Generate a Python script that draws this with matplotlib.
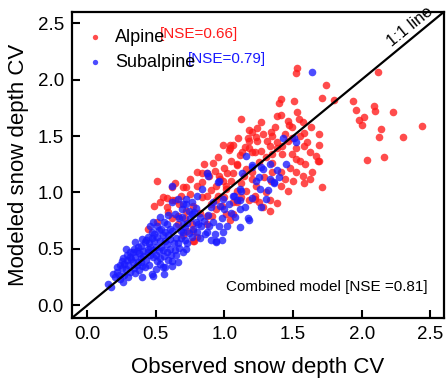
import matplotlib
matplotlib.use("Agg")
import matplotlib.pyplot as plt

plt.rcParams["font.family"] = ["Liberation Sans", "DejaVu Sans"]

# Alpine sites (observed CV, modeled CV)
alpine_obs = [2.12, 1.74, 1.71, 1.80, 1.94, 2.09, 1.96, 2.10, 2.23, 2.02, 1.98, 2.00, 2.44, 2.14,
              2.13, 2.30, 2.04, 2.16, 1.69, 1.69, 1.69, 1.53, 1.52, 1.41, 1.40, 1.51, 1.12, 1.27,
              1.38, 1.41, 1.53, 1.54, 1.57, 1.24, 1.18, 1.34, 1.63, 1.46, 1.47, 1.35, 1.17, 1.23,
              1.24, 1.46, 1.06, 1.33, 1.42, 1.52, 1.58, 1.18, 1.22, 1.35, 1.67, 0.99, 1.04, 1.03,
              1.18, 0.95, 1.11, 1.38, 1.52, 1.59, 1.52, 1.57, 1.64, 1.71, 1.58, 1.46, 1.38, 1.41,
              1.33, 0.87, 1.13, 1.42, 1.49, 1.68, 1.35, 1.41, 1.34, 1.29, 1.20, 1.22, 1.16, 1.18,
              1.28, 1.33, 1.09, 1.20, 1.20, 0.93, 0.84, 0.72, 0.62, 1.01, 1.06, 1.14, 1.23, 1.22,
              1.09, 0.94, 0.87, 0.51, 0.49, 0.58, 0.62, 0.64, 1.04, 1.09, 1.02, 0.96, 0.89, 0.84,
              0.80, 0.70, 0.75, 0.84, 0.94, 1.01, 1.09, 1.06, 0.94, 1.01, 0.87, 0.59, 0.66, 0.71,
              0.55, 0.67, 0.77, 0.95, 0.51, 0.62, 0.73, 0.78, 0.76, 1.06, 1.04, 0.91, 0.87, 0.77,
              0.80, 0.77, 0.64, 0.44,
              0.90, 0.97, 1.05, 1.12, 1.16, 1.25, 1.30, 1.27, 1.31, 1.38, 1.44, 1.49, 1.55, 1.60,
              1.62, 1.55, 1.48, 1.44, 1.50, 1.62, 1.05, 1.00, 0.92, 0.85, 0.80, 0.75, 0.68, 0.72,
              0.82, 0.90, 0.98, 1.12, 1.25, 1.30, 1.15, 1.10, 1.28, 1.37, 1.49, 1.58, 0.58, 0.53,
              0.66, 0.70, 1.00, 1.20, 1.35, 0.99]
alpine_mod = [2.07, 1.95, 1.84, 1.82, 1.81, 1.77, 1.73, 1.72, 1.71, 1.67, 1.64, 1.60, 1.59, 1.56,
              1.49, 1.49, 1.29, 1.31, 1.52, 1.42, 1.28, 2.10, 2.06, 1.83, 1.79, 1.81, 1.65, 1.62,
              1.68, 1.69, 1.71, 1.65, 1.62, 1.57, 1.55, 1.54, 1.58, 1.63, 1.60, 1.50, 1.48, 1.49,
              1.46, 1.46, 1.42, 1.41, 1.41, 1.39, 1.41, 1.39, 1.36, 1.34, 1.32, 1.42, 1.42, 1.38,
              1.46, 1.31, 1.33, 1.39, 1.30, 1.25, 1.18, 1.15, 1.18, 1.05, 1.08, 1.01, 0.91, 1.06,
              0.93, 1.17, 1.36, 1.34, 1.34, 1.28, 1.18, 1.18, 1.10, 1.14, 1.12, 0.97, 1.01, 0.93,
              0.87, 0.84, 1.25, 1.54, 1.36, 1.19, 1.09, 1.05, 0.93, 1.03, 1.17, 1.15, 1.06, 0.94,
              0.92, 0.93, 0.97, 1.10, 0.88, 0.87, 1.05, 1.08, 1.39, 1.24, 1.17, 1.15, 1.15, 1.17,
              1.06, 1.05, 0.99, 0.96, 1.06, 1.06, 1.01, 0.92, 0.85, 0.81, 0.79, 0.83, 0.79, 0.77,
              0.96, 0.90, 0.88, 0.97, 0.74, 0.77, 0.66, 0.57, 0.72, 0.81, 0.76, 0.79, 0.72, 0.66,
              0.61, 0.57, 0.93, 0.68,
              1.02, 1.12, 1.10, 1.08, 1.21, 1.27, 1.31, 1.37, 1.46, 1.45, 1.52, 1.48, 1.50, 1.45,
              1.36, 1.28, 1.22, 1.12, 1.10, 1.12, 1.28, 1.22, 1.26, 1.25, 1.18, 1.12, 0.97, 0.84,
              0.82, 0.90, 0.88, 0.96, 0.92, 1.00, 1.40, 1.48, 1.52, 1.58, 1.58, 1.53, 0.95, 0.92,
              0.72, 0.62, 0.96, 1.18, 1.26, 1.10]

# Subalpine sites
sub_obs = [0.17, 0.15, 0.20, 0.24, 0.26, 0.22, 0.22, 0.28, 0.31, 0.30, 0.33, 0.25, 0.29, 0.28,
           0.33, 0.35, 0.37, 0.40, 0.42, 0.37, 0.35, 0.40, 0.42, 0.44, 0.46, 0.48, 0.51, 0.48,
           0.57, 0.62, 0.66, 0.65, 0.70, 0.72, 0.44, 0.47, 0.51, 0.53, 0.54, 0.58, 0.60, 0.57,
           0.54, 0.51, 0.46, 0.48, 0.62, 0.65, 0.67, 0.64, 0.69, 0.72, 0.76, 0.78, 0.75, 0.71,
           0.76, 0.80, 0.83, 0.62, 0.66, 0.87, 0.93, 0.94, 0.99, 1.11, 1.18, 0.58, 0.47, 0.55,
           0.62, 0.62, 0.87, 0.95, 0.80, 0.72, 0.84, 0.99, 1.06, 1.09, 1.11, 1.00, 0.96, 0.89,
           0.86, 0.94, 0.70, 0.60, 0.76, 0.82, 0.70, 1.17, 1.64, 1.16, 1.33, 1.27, 1.23, 1.33,
           1.36, 1.40, 1.13, 1.12, 1.11, 1.30, 1.27, 1.43, 1.51, 1.52, 1.36, 1.28, 1.20, 1.25,
           1.07, 0.96, 1.11, 1.20, 0.88, 0.38, 0.41, 0.45, 0.49, 0.52, 0.56, 0.60, 0.63, 0.55,
           0.50, 0.43, 0.39, 0.47, 0.58, 0.68, 0.73, 0.66, 0.36, 0.32, 0.27, 0.53, 0.59, 0.69,
           0.74, 0.79,
           0.19, 0.23, 0.27, 0.30, 0.25, 0.29, 0.31, 0.34, 0.38, 0.36, 0.39, 0.41, 0.44, 0.46,
           0.48, 0.50, 0.53, 0.55, 0.57, 0.59, 0.61, 0.64, 0.67, 0.68, 0.71, 0.73, 0.77, 0.81,
           0.85, 0.88, 0.90, 0.92, 0.97, 1.03, 1.05, 1.08, 0.98, 0.92, 0.79, 0.74, 0.70, 0.56,
           0.52, 0.49, 0.43, 0.39, 0.34, 0.31, 0.26, 0.24, 0.45, 0.50, 0.53, 0.59, 0.56, 0.65,
           0.82, 0.90, 0.98, 1.02, 1.15, 1.20, 1.26, 1.32, 1.38, 1.45, 0.40, 0.35]
sub_mod = [0.16, 0.19, 0.25, 0.23, 0.21, 0.30, 0.34, 0.32, 0.30, 0.36, 0.38, 0.39, 0.45, 0.50,
           0.47, 0.43, 0.38, 0.35, 0.34, 0.52, 0.56, 0.59, 0.56, 0.50, 0.45, 0.43, 0.39, 0.26,
           0.34, 0.39, 0.38, 0.45, 0.47, 0.50, 0.61, 0.65, 0.61, 0.57, 0.52, 0.54, 0.59, 0.65,
           0.68, 0.70, 0.70, 0.74, 0.66, 0.70, 0.77, 0.81, 0.85, 0.90, 0.92, 0.83, 0.77, 0.69,
           0.61, 0.65, 0.70, 0.92, 0.94, 0.65, 0.63, 0.56, 0.65, 0.69, 0.76, 0.47, 0.28, 0.34,
           0.35, 1.06, 1.17, 1.09, 0.97, 0.94, 1.03, 0.94, 0.97, 0.93, 0.85, 0.85, 0.70, 0.70,
           0.63, 0.57, 0.65, 0.68, 0.81, 0.78, 0.90, 0.77, 2.07, 1.32, 1.25, 1.23, 1.10, 1.12,
           1.09, 1.14, 1.17, 1.01, 0.93, 0.94, 0.87, 1.48, 1.48, 1.45, 1.08, 1.21, 1.23, 1.14,
           0.97, 1.10, 1.03, 1.24, 1.15, 0.46, 0.48, 0.55, 0.57, 0.48, 0.44, 0.50, 0.55, 0.62,
           0.52, 0.40, 0.42, 0.60, 0.72, 0.60, 0.73, 0.55, 0.48, 0.41, 0.37, 0.78, 0.80, 0.78,
           0.64, 0.74,
           0.28, 0.27, 0.27, 0.25, 0.33, 0.40, 0.43, 0.33, 0.31, 0.36, 0.38, 0.44, 0.47, 0.52,
           0.49, 0.45, 0.42, 0.49, 0.57, 0.62, 0.45, 0.49, 0.51, 0.66, 0.58, 0.55, 0.68, 0.72,
           0.75, 0.80, 0.87, 0.92, 0.88, 0.90, 0.82, 0.78, 0.77, 0.74, 0.86, 0.84, 0.72, 0.74,
           0.67, 0.63, 0.58, 0.53, 0.50, 0.47, 0.42, 0.36, 0.36, 0.32, 0.37, 0.40, 0.28, 0.60,
           0.60, 0.58, 0.58, 0.70, 0.87, 0.95, 1.03, 1.02, 1.20, 1.25, 0.25, 0.29]

lims = [-0.11, 2.6]

fig = plt.figure(figsize=(4.48, 3.82), dpi=100)
ax = fig.add_axes([0.161, 0.168, 0.830, 0.801])

ax.scatter(alpine_obs, alpine_mod, s=30, color="#ff1a1a", alpha=0.78, linewidths=0, label="Alpine")
ax.scatter(sub_obs, sub_mod, s=30, color="#1a1aff", alpha=0.78, linewidths=0, label="Subalpine")
ax.plot(lims, lims, color="black", lw=1.6)

ax.set_xlim(lims)
ax.set_ylim(lims)
ax.set_xticks([0, 0.5, 1.0, 1.5, 2.0, 2.5])
ax.set_yticks([0, 0.5, 1.0, 1.5, 2.0, 2.5])
ax.tick_params(direction="in", length=6, width=1.5, labelsize=13.5, pad=6)
for sp in ax.spines.values():
    sp.set_linewidth(1.6)

ax.set_xlabel("Observed snow depth CV", fontsize=16, labelpad=10)
ax.set_ylabel("Modeled snow depth CV", fontsize=16, labelpad=6)

leg = ax.legend(loc="upper left", bbox_to_anchor=(-0.02, 0.985), frameon=False, fontsize=13,
                handletextpad=0.1, markerscale=0.7, labelspacing=0.45, borderaxespad=0.3)
ax.text(0.235, 0.928, "[NSE=0.66]", color="#ff1a1a", fontsize=11, transform=ax.transAxes, va="center")
ax.text(0.312, 0.846, "[NSE=0.79]", color="#1a1aff", fontsize=11, transform=ax.transAxes, va="center")

ax.text(2.35, 2.47, "1:1 line", fontsize=12, rotation=39, ha="center", va="center")
ax.text(0.957, 0.10, "Combined model [NSE =0.81]", fontsize=11, ha="right", va="center",
        transform=ax.transAxes)

fig.savefig("out.png", dpi=100)
